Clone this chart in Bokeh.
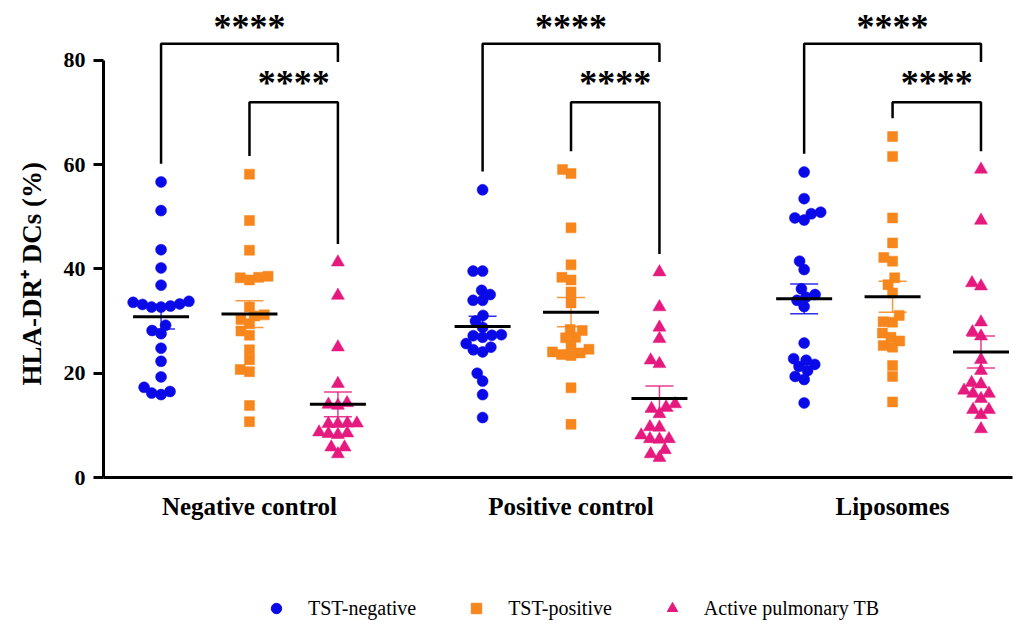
import numpy as np
from bokeh.plotting import figure
from bokeh.models import Range1d, FixedTicker, Legend, LegendItem, ColumnDataSource, Title
from bokeh.layouts import column
from bokeh.embed import file_html
from bokeh.resources import INLINE
from bokeh.core.properties import value

# ---- data -------------------------------------------------------------
groups = ["Negative control", "Positive control", "Liposomes"]
series = ["TST-negative", "TST-positive", "Active pulmonary TB"]

tst_negative_nc = [56.7, 51.2, 43.7, 40.2, 36.9, 33.8, 33.2, 32.7, 32.9, 33.3, 32.7,
                   33.6, 29.2, 28.2, 27.6, 24.8, 22.3, 19.3, 16.2, 16.5, 17.3, 15.9]
tst_positive_nc = [58.2, 49.3, 43.6, 38.4, 38.3, 38.6, 37.9, 32.7, 31.2, 31.0, 30.3,
                   29.5, 28.1, 27.3, 24.5, 22.6, 20.3, 20.7, 13.8, 10.7]
active_tb_nc = [41.3, 34.9, 25.0, 18.0, 13.8, 14.3, 14.0, 10.3, 10.4, 10.4, 10.3,
                8.4, 8.5, 8.2, 8.7, 5.8, 5.8, 4.5]

tst_negative_pc = [55.2, 39.6, 39.6, 35.9, 35.1, 34.0, 34.0, 31.1, 30.0, 28.8, 27.4,
                   27.3, 26.9, 27.2, 25.7, 25.0, 24.1, 24.5, 20.0, 18.5, 15.9, 11.5]
tst_positive_pc = [59.1, 58.3, 47.9, 40.8, 37.9, 38.4, 35.6, 33.5, 28.2, 28.4, 26.8,
                   26.9, 25.3, 23.6, 23.4, 23.9, 24.1, 24.6, 17.2, 10.2]
active_tb_pc = [39.4, 32.7, 28.8, 26.6, 21.8, 22.5, 13.5, 14.1, 13.2, 12.2, 9.7,
                9.6, 7.4, 8.1, 7.4, 7.3, 3.8, 5.3, 4.5]

tst_negative_lipo = [58.6, 53.5, 50.9, 49.8, 49.4, 50.6, 41.5, 39.9, 36.2, 35.1, 34.0,
                     34.6, 32.8, 25.8, 21.3, 22.5, 21.7, 22.8, 19.4, 18.8, 20.5, 14.3]
tst_positive_lipo = [65.4, 61.6, 49.8, 45.0, 41.5, 42.2, 38.3, 37.0, 35.4, 31.1, 29.8,
                     29.9, 27.7, 26.9, 26.2, 25.3, 25.0, 21.5, 19.4, 14.5]
active_tb_lipo = [59.1, 49.3, 37.3, 36.7, 29.8, 27.9, 27.1, 22.6, 20.5, 18.2, 17.9,
                  16.1, 16.1, 16.7, 15.1, 13.0, 12.0, 13.0, 9.3]

# significance of TST-negative vs TB and TST-positive vs TB, per group
stars_neg_vs_tb = ["****", "****", "****"]
stars_pos_vs_tb = ["****", "****", "****"]

y_ticks = [0, 20, 40, 60, 80]
y_title = "HLA-DR\u207a DCs (%)"

table = {
    "TST-negative": [tst_negative_nc, tst_negative_pc, tst_negative_lipo],
    "TST-positive": [tst_positive_nc, tst_positive_pc, tst_positive_lipo],
    "Active pulmonary TB": [active_tb_nc, active_tb_pc, active_tb_lipo],
}

# ---- styling / geometry ----------------------------------------------
colors = {"TST-negative": "#0a0ae8", "TST-positive": "#f7861d", "Active pulmonary TB": "#e5197e"}
markers = {"TST-negative": "circle", "TST-positive": "square", "Active pulmonary TB": "triangle"}
sizes = {"TST-negative": 11, "TST-positive": 10, "Active pulmonary TB": 13}
series_shift = {"TST-negative": -0.275, "TST-positive": 0.0, "Active pulmonary TB": 0.275}

W, H_MAIN, H_LEG = 1030, 589, 36
LEFT, RIGHT, TOP, BOTTOM = 103, 18, 5, 112
X0, X1 = 0.546, 3.373
YMAX = 90.55
FRAME_W = W - LEFT - RIGHT
FRAME_H = H_MAIN - TOP - BOTTOM
PX_X = FRAME_W / (X1 - X0)
PX_Y = FRAME_H / YMAX
SERIF = "Liberation Serif"


def swarm_offsets(vals, diam):
    """Beeswarm layout: horizontal pixel offsets so markers do not overlap."""
    vals = np.asarray(vals, dtype=float)
    offs = np.zeros(len(vals))
    placed = []
    for i in np.argsort(vals):
        y = vals[i] * PX_Y
        spans = []
        for xj, yj in placed:
            dy = abs(y - yj)
            if dy < diam:
                w = np.sqrt(diam ** 2 - dy ** 2)
                spans.append((xj - w, xj + w))
        cands = [0.0] + [a for a, _ in spans] + [b for _, b in spans]
        cands.sort(key=lambda c: (round(abs(c), 6), c))
        for c in cands:
            if all(not (a + 1e-6 < c < b - 1e-6) for a, b in spans):
                offs[i] = c
                break
        placed.append((offs[i], y))
    return offs


p = figure(width=W, height=H_MAIN, x_range=Range1d(X0, X1), y_range=Range1d(0, YMAX),
           output_backend="svg", toolbar_location=None,
           min_border_left=LEFT, min_border_right=RIGHT,
           min_border_top=TOP, min_border_bottom=BOTTOM)
p.outline_line_color = None
p.xgrid.visible = False
p.ygrid.visible = False

for s in series:
    xs, ys = [], []
    mx, my = [], []
    for gi, vals in enumerate(table[s]):
        center = gi + 1 + series_shift[s]
        offs = swarm_offsets(vals, 9.5)
        xs += list(center + offs / PX_X)
        ys += list(vals)
        arr = np.asarray(vals, dtype=float)
        m = arr.mean()
        sem = arr.std(ddof=1) / np.sqrt(len(arr))
        # error bar (SEM)
        p.segment(x0=[center], y0=[m - sem], x1=[center], y1=[m + sem],
                  line_color=colors[s], line_width=1.5, line_alpha=0.85)
        p.segment(x0=[center - 14 / PX_X] * 2, y0=[m - sem, m + sem],
                  x1=[center + 14 / PX_X] * 2, y1=[m - sem, m + sem],
                  line_color=colors[s], line_width=1.5, line_alpha=0.85)
        mx.append(center)
        my.append(m)
    src = ColumnDataSource(dict(x=xs, y=ys))
    p.scatter("x", "y", source=src, marker=markers[s], size=sizes[s],
              fill_color=colors[s], line_color=colors[s], line_width=0.5)
    # mean line
    p.segment(x0=[c - 28 / PX_X for c in mx], y0=my, x1=[c + 28 / PX_X for c in mx], y1=my,
              line_color="black", line_width=3)

# significance brackets
OUTER_Y, INNER_Y, GAP = 83.2, 72.0, 3.5
bx, by, tx, ty, tt = [], [], [], [], []
for gi in range(3):
    xb = gi + 1 + series_shift["TST-negative"]
    xo = gi + 1 + series_shift["TST-positive"]
    xt = gi + 1 + series_shift["Active pulmonary TB"]
    top_b = max(table["TST-negative"][gi]) + GAP
    top_o = max(table["TST-positive"][gi]) + GAP
    top_t = max(table["Active pulmonary TB"][gi]) + GAP
    bx.append([xb, xb, xt, xt]); by.append([top_b, OUTER_Y, OUTER_Y, OUTER_Y - GAP])
    bx.append([xo, xo, xt, xt]); by.append([top_o, INNER_Y, INNER_Y, top_t])
    tx += [(xb + xt) / 2, (xo + xt) / 2]
    ty += [OUTER_Y + 3.3, INNER_Y + 3.6]
    tt += [stars_neg_vs_tb[gi], stars_pos_vs_tb[gi]]
p.multi_line(xs=bx, ys=by, line_color="black", line_width=2.5)
p.text(x=tx, y=ty, text=tt, text_align="center", text_baseline="alphabetic",
       text_font=value(SERIF), text_font_style="bold", text_font_size="36px",
       text_color="black")

# axes
yax = p.yaxis[0]
yax.ticker = FixedTicker(ticks=y_ticks)
yax.bounds = (0, 80)
yax.axis_line_width = 3
yax.major_tick_line_width = 3
yax.major_tick_in = 0
yax.major_tick_out = 10
yax.minor_tick_line_color = None
yax.major_label_standoff = 8
yax.major_label_text_font = SERIF
yax.major_label_text_font_style = "bold"
yax.major_label_text_font_size = "22px"
yax.major_label_text_color = "black"

# y title, laid out from the foot of the axis upwards
p.add_layout(Title(text=y_title, align="left", vertical_align="top", offset=92,
                   standoff=24, text_font=SERIF, text_font_style="bold",
                   text_font_size="27px", text_color="black"), "left")

xax = p.xaxis[0]
xax.ticker = FixedTicker(ticks=[1, 2, 3])
xax.major_label_overrides = {i + 1: g for i, g in enumerate(groups)}
xax.axis_line_width = 3
xax.major_tick_line_width = 3
xax.major_tick_in = 0
xax.major_tick_out = 0
xax.minor_tick_line_color = None
xax.major_label_standoff = 15
xax.major_label_text_font = SERIF
xax.major_label_text_font_style = "bold"
xax.major_label_text_font_size = "25px"
xax.major_label_text_color = "black"

# legend strip
lg = figure(width=W, height=H_LEG, x_range=Range1d(0, 1), y_range=Range1d(0, 1),
            output_backend="svg", toolbar_location=None,
            x_axis_location=None, y_axis_location=None, min_border=0)
lg.outline_line_color = None
lg.grid.visible = False
items = []
for s in series:
    r = lg.scatter(x=[-5], y=[-5], marker=markers[s], size=11,
                   fill_color=colors[s], line_color=colors[s])
    items.append(LegendItem(label=s, renderers=[r]))
legend = Legend(items=items, orientation="horizontal", location=(160, 4),
                glyph_width=26, glyph_height=26, label_height=26, label_standoff=19,
                spacing=47, padding=0, margin=0, border_line_color=None,
                background_fill_alpha=0, label_text_font=SERIF,
                label_text_font_size="20px", label_text_color="black")
lg.add_layout(legend)

layout = column(p, lg)
open("out.html", "w").write(file_html(layout, INLINE))
